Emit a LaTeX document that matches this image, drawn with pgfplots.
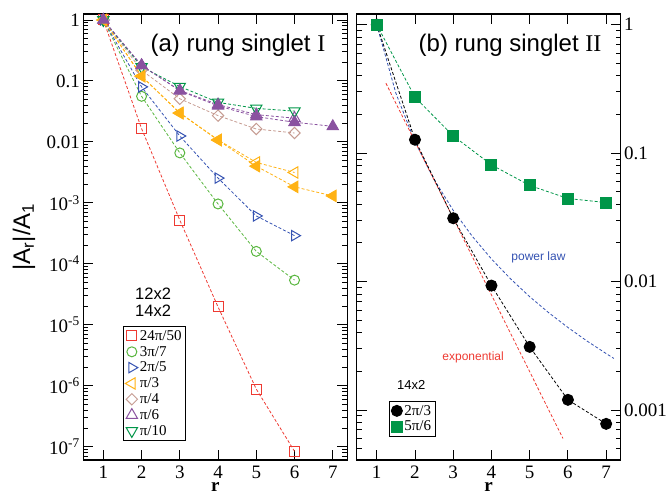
\documentclass[border=0pt]{standalone}
\usepackage{fontspec}
\setmainfont{Liberation Serif}
\setsansfont{Liberation Sans}
\usepackage{pgfplots}
\pgfplotsset{compat=1.18}

\definecolor{cRed}{RGB}{238,58,50}
\definecolor{cGreen}{RGB}{88,182,62}
\definecolor{cBlue}{RGB}{52,82,178}
\definecolor{cOrange}{RGB}{255,178,20}
\definecolor{cTan}{RGB}{198,156,146}
\definecolor{cPurple}{RGB}{138,82,160}
\definecolor{cDkGreen}{RGB}{0,150,72}

\tikzset{
  ser/.style={line width=0.8pt, dash pattern=on 3pt off 2pt},
  mk/.style={solid, line width=1pt},
}
\pgfplotsset{
  panel/.style={
    width=264pt, height=446pt, scale only axis,
    xmin=0.476, xmax=7.38,
    xtick={1,2,3,4,5,6,7}, xticklabels={1,2,3,4,5,6,7},
    tick align=inside, major tick length=10pt, minor tick length=5pt,
    every tick/.style={black, line width=0.9pt},
    axis line style={line width=1.3pt},
    tick label style={font=\fontsize{19}{19}\selectfont},
    xticklabel style={inner sep=1pt, yshift=-4.5pt},
    xlabel={\textbf{r}},
    xlabel style={at={(axis description cs:0.5,-0.0695)}, anchor=base,
      text depth=0pt, inner sep=0pt, font=\fontsize{19}{19}\selectfont},
    legend cell align=left,
    legend image code/.code={%
      \draw[##1, only marks, mark repeat=2, mark phase=2]
        plot coordinates {(0pt,0pt) (6pt,0pt) (12pt,0pt)};},
    legend style={font=\fontsize{15}{15}\selectfont, draw=black,
      line width=0.9pt, inner sep=2pt, row sep=0.4pt,
      /tikz/every even column/.append style={column sep=2pt}},
  },
}

\begin{document}
\begin{tikzpicture}
\useasboundingbox (0,0) rectangle (669pt,494pt);

% ---------------- (a) rung singlet I ----------------
\begin{semilogyaxis}[panel,
  at={(83.3pt,34pt)}, anchor=south west,
  ymin=6.05e-8, ymax=1.254,
  ytick={1e-7,1e-6,1e-5,1e-4,1e-3,1e-2,1e-1,1},
  yticklabels={10\textsuperscript{-7},10\textsuperscript{-6},10\textsuperscript{-5},
    10\textsuperscript{-4},10\textsuperscript{-3},0.01,0.1,1},
  minor ytick={7e-8,8e-8,9e-8,
    2e-7,3e-7,4e-7,5e-7,6e-7,7e-7,8e-7,9e-7,
    2e-6,3e-6,4e-6,5e-6,6e-6,7e-6,8e-6,9e-6,
    2e-5,3e-5,4e-5,5e-5,6e-5,7e-5,8e-5,9e-5,
    2e-4,3e-4,4e-4,5e-4,6e-4,7e-4,8e-4,9e-4,
    2e-3,3e-3,4e-3,5e-3,6e-3,7e-3,8e-3,9e-3,
    0.02,0.03,0.04,0.05,0.06,0.07,0.08,0.09,
    0.2,0.3,0.4,0.5,0.6,0.7,0.8,0.9},
  ylabel={\sffamily |A\textsubscript{r}|/A\textsubscript{1}},
  ylabel style={at={(axis description cs:-0.225,0.5)}, anchor=center,
    font=\fontsize{24}{24}\selectfont},
  legend style={at={(0.15,0.301)}, anchor=north west},
]
% 12x2 (open symbols)
\addplot[ser, cRed, mark=square, mark size=5pt, mark options={mk}]
  coordinates {(1,1) (2,0.0165) (3,5.2e-4) (4,1.96e-5) (5,8.8e-7) (6,8.4e-8)};
\addlegendentry{24π/50}
\addplot[ser, cGreen, mark=o, mark size=5pt, mark options={mk}]
  coordinates {(1,1) (2,0.056) (3,0.0066) (4,9.6e-4) (5,1.6e-4) (6,5.4e-5)};
\addlegendentry{3π/7}
\addplot[ser, cBlue, mark=triangle, mark size=6pt, mark options={mk, rotate=-90}]
  coordinates {(1,1) (2,0.080) (3,0.0125) (4,2.55e-3) (5,6.1e-4) (6,2.9e-4)};
\addlegendentry{2π/5}
\addplot[ser, cOrange, mark=triangle, mark size=6.5pt, mark options={mk, rotate=90}]
  coordinates {(1,1) (2,0.12) (3,0.030) (4,0.0108) (5,4.6e-3) (6,3.15e-3)};
\addlegendentry{π/3}
\addplot[ser, cTan, mark=square, mark size=4pt, mark options={mk, rotate=45}]
  coordinates {(1,1) (2,0.15) (3,0.051) (4,0.027) (5,0.0163) (6,0.014)};
\addlegendentry{π/4}
\addplot[ser, cPurple, mark=triangle, mark size=6.5pt, mark options={mk}]
  coordinates {(1,1) (2,0.18) (3,0.070) (4,0.041) (5,0.028) (6,0.0245)};
\addlegendentry{π/6}
\addplot[ser, cDkGreen, mark=triangle, mark size=6.5pt, mark options={mk, rotate=180}]
  coordinates {(1,1) (2,0.17) (3,0.081) (4,0.0445) (5,0.0355) (6,0.032)};
\addlegendentry{π/10}
% 14x2 (filled symbols)
\addplot[ser, cOrange, mark=triangle*, mark size=6.5pt, mark options={mk, rotate=90}, forget plot]
  coordinates {(1,1) (2,0.12) (3,0.0295) (4,0.0107) (5,4.0e-3) (6,1.83e-3) (7,1.3e-3)};
\addplot[ser, cPurple, mark=triangle*, mark size=6.5pt, mark options={mk}, forget plot]
  coordinates {(1,1) (2,0.18) (3,0.069) (4,0.039) (5,0.026) (6,0.021) (7,0.018)};

\node[font=\sffamily\fontsize{24}{24}\selectfont] at (rel axis cs:0.586,0.930)
  {(a) rung singlet {\rmfamily I}};
\node[font=\sffamily\fontsize{16.5}{16.5}\selectfont] at (axis cs:2.30,3.2e-5) {12x2};
\node[font=\sffamily\fontsize{16.5}{16.5}\selectfont] at (axis cs:2.30,1.68e-5) {14x2};
\end{semilogyaxis}

% ---------------- (b) rung singlet II ----------------
\begin{semilogyaxis}[panel,
  at={(356.7pt,34pt)}, anchor=south west,
  ymin=4.08e-4, ymax=1.21,
  ytick={1e-3,1e-2,1e-1,1},
  yticklabels={0.001,0.01,0.1,1},
  minor ytick={5e-4,6e-4,7e-4,8e-4,9e-4,
    2e-3,3e-3,4e-3,5e-3,6e-3,7e-3,8e-3,9e-3,
    0.02,0.03,0.04,0.05,0.06,0.07,0.08,0.09,
    0.2,0.3,0.4,0.5,0.6,0.7,0.8,0.9},
  yticklabel pos=right,
  legend style={at={(0.122,0.133)}, anchor=north west},
]
% fitted forms
\addplot[ser, cBlue, forget plot]
  coordinates {(1,1) (1.5,0.2927) (2,0.1225) (2.5,0.0623) (3,0.0358) (3.5,0.02246)
    (4,0.01499) (4.5,0.01049) (5,0.00762) (5.5,0.00571) (6,0.00439)
    (6.5,0.00344) (7,0.00275) (7.2,0.00252)};
\addplot[ser, cRed, forget plot]
  coordinates {(1.24,0.35) (5.87,6.0e-4)};
% data
\addplot[ser, black, mark=*, mark size=5.5pt, mark options={mk}]
  coordinates {(1,1) (2,0.127) (3,0.0311) (4,0.0093) (5,3.1e-3) (6,1.2e-3) (7,7.8e-4)};
\addlegendentry{2π/3}
\addplot[ser, cDkGreen, mark=square*, mark size=5.5pt, mark options={mk}]
  coordinates {(1,1) (2,0.272) (3,0.136) (4,0.081) (5,0.056) (6,0.0443) (7,0.0412)};
\addlegendentry{5π/6}

\node[font=\sffamily\fontsize{24}{24}\selectfont] at (rel axis cs:0.581,0.930)
  {(b) rung singlet {\rmfamily II}};
\node[font=\sffamily\fontsize{12}{12}\selectfont, text=cBlue] at (axis cs:5.23,0.0155) {power law};
\node[font=\sffamily\fontsize{12}{12}\selectfont, text=cRed] at (axis cs:3.52,2.58e-3) {exponential};
\node[font=\sffamily\fontsize{13}{13}\selectfont] at (axis cs:1.90,1.56e-3) {14x2};
\end{semilogyaxis}
\end{tikzpicture}
\end{document}
